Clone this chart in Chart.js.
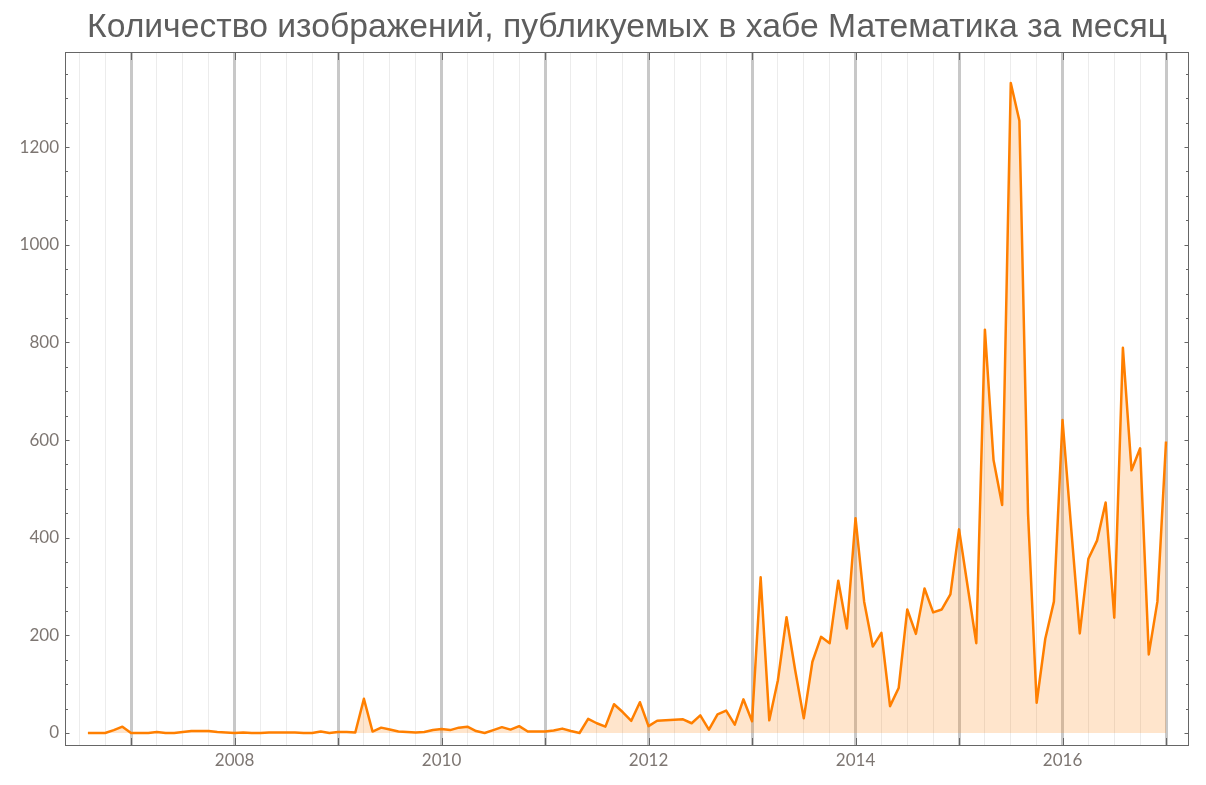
<!DOCTYPE html>
<html lang="ru">
<head>
    <meta charset="UTF-8">
    <title>Математика</title>
    <script src="https://cdn.jsdelivr.net/npm/chart.js"></script>
    <style>
        body { margin: 0; background: #fff; }
        canvas { display: block; }
    </style>
</head>
<body>
    <canvas id="chart" width="1206" height="785" style="width:1206px;height:785px"></canvas>

    <script>
        const chartTitle = 'Количество изображений, публикуемых в хабе Математика за месяц';

        // first month of the series: August 2006, one value per month up to January 2017
        const startYear = 2006;
        const startMonth = 8;
        const imageCounts = [
            0, 0, 0, 6, 13,                                          // 2006 (авг-дек)
            0, 0, 0, 2, 0, 0, 2, 4, 4, 4, 2, 1,                      // 2007
            0, 1, 0, 0, 1, 1, 1, 1, 0, 0, 3, 0,                      // 2008
            2, 2, 1, 70, 3, 11, 7, 3, 2, 1, 2, 6,                    // 2009
            8, 6, 11, 13, 4, 0, 6, 12, 7, 14, 3, 3,                  // 2010
            3, 5, 9, 4, 0, 29, 20, 13, 59, 43, 25, 63,               // 2011
            14, 25, 26, 27, 28, 20, 36, 7, 38, 46, 17, 69,           // 2012
            24, 319, 26, 108, 237, 129, 30, 146, 197, 184, 312, 214, // 2013
            440, 269, 177, 205, 55, 92, 253, 203, 296, 247, 253, 284, // 2014
            417, 300, 184, 826, 559, 467, 1331, 1254, 450, 62, 193, 269, // 2015
            641, 420, 204, 357, 394, 472, 236, 789, 538, 583, 161, 269, // 2016
            597                                                      // 2017 (янв)
        ];

        const yearLabels = [2008, 2010, 2012, 2014, 2016];
        const yTickValues = [0, 200, 400, 600, 800, 1000, 1200];

        const xMin = 2006.362, xMax = 2017.222;
        const yMin = -26.6, yMax = 1394.6;

        const points = imageCounts.map((v, i) => {
            const m = startMonth - 1 + i;
            return { x: startYear + Math.floor(m / 12) + (m % 12) / 12, y: v };
        });

        const isYear = v => Math.abs(v - Math.round(v)) < 1e-6;

        const framePlugin = {
            id: 'frame',
            afterDraw(chart) {
                const { ctx, chartArea: a, scales } = chart;
                ctx.save();
                // title
                ctx.fillStyle = '#5e5e5e';
                ctx.font = '33.7px "Liberation Sans", Arial, sans-serif';
                ctx.textAlign = 'center';
                ctx.textBaseline = 'alphabetic';
                ctx.fillText(chartTitle, (a.left + a.right) / 2, 37);

                // frame
                ctx.strokeStyle = '#666';
                ctx.lineWidth = 1;
                ctx.strokeRect(a.left + 0.5, a.top + 0.5, a.right - a.left - 1, a.bottom - a.top - 1);

                // x ticks at each year, top and bottom
                ctx.beginPath();
                for (let yr = Math.ceil(xMin); yr <= Math.floor(xMax); yr++) {
                    const px = Math.round(scales.x.getPixelForValue(yr)) + 0.5;
                    ctx.moveTo(px, a.bottom);
                    ctx.lineTo(px, a.bottom - 8);
                    ctx.moveTo(px, a.top);
                    ctx.lineTo(px, a.top + 8);
                }
                // y ticks every 50, longer every 200, left and right
                for (let v = 0; v <= yMax; v += 50) {
                    const py = Math.round(scales.y.getPixelForValue(v)) + 0.5;
                    const len = v % 200 === 0 ? 4.5 : 3;
                    ctx.moveTo(a.left, py);
                    ctx.lineTo(a.left + len, py);
                    ctx.moveTo(a.right, py);
                    ctx.lineTo(a.right - len, py);
                }
                ctx.stroke();
                ctx.restore();
            }
        };

        const labelFont = { family: 'Lato, "Open Sans", sans-serif', size: 17 };
        const labelColor = '#7d7672';

        new Chart(document.getElementById('chart').getContext('2d'), {
            type: 'line',
            data: {
                datasets: [{
                    data: points,
                    borderColor: '#ff7f00',
                    backgroundColor: 'rgba(255, 127, 0, 0.2)',
                    borderWidth: 2.5,
                    borderJoinStyle: 'round',
                    fill: 'origin',
                    pointRadius: 0,
                    tension: 0
                }]
            },
            options: {
                responsive: false,
                devicePixelRatio: 1,
                animation: false,
                layout: { padding: { top: 52, right: 17, left: 0, bottom: 0 } },
                plugins: {
                    legend: { display: false },
                    tooltip: { enabled: false },
                    title: { display: false }
                },
                scales: {
                    x: {
                        type: 'linear',
                        min: xMin,
                        max: xMax,
                        afterBuildTicks(scale) {
                            const ticks = [];
                            for (let q = 0; q <= 42; q++) ticks.push({ value: 2006.5 + q * 0.25 });
                            scale.ticks = ticks;
                        },
                        afterFit(scale) { scale.height = 39; },
                        ticks: {
                            autoSkip: false,
                            maxRotation: 0,
                            padding: 4,
                            color: labelColor,
                            font: labelFont,
                            callback: v => (isYear(v) && yearLabels.includes(Math.round(v))) ? String(Math.round(v)) : ''
                        },
                        grid: {
                            drawTicks: false,
                            color: c => (c.tick && isYear(c.tick.value)) ? '#c8c8c8' : '#ececec',
                            lineWidth: c => (c.tick && isYear(c.tick.value)) ? 3 : 1
                        },
                        border: { display: false }
                    },
                    y: {
                        type: 'linear',
                        min: yMin,
                        max: yMax,
                        afterBuildTicks(scale) {
                            scale.ticks = yTickValues.map(v => ({ value: v }));
                        },
                        afterFit(scale) { scale.width = 65; },
                        ticks: {
                            padding: 6,
                            color: labelColor,
                            font: labelFont,
                            callback: v => String(v)
                        },
                        grid: { display: false, drawTicks: false },
                        border: { display: false }
                    }
                }
            },
            plugins: [framePlugin]
        });
    </script>
</body>
</html>
